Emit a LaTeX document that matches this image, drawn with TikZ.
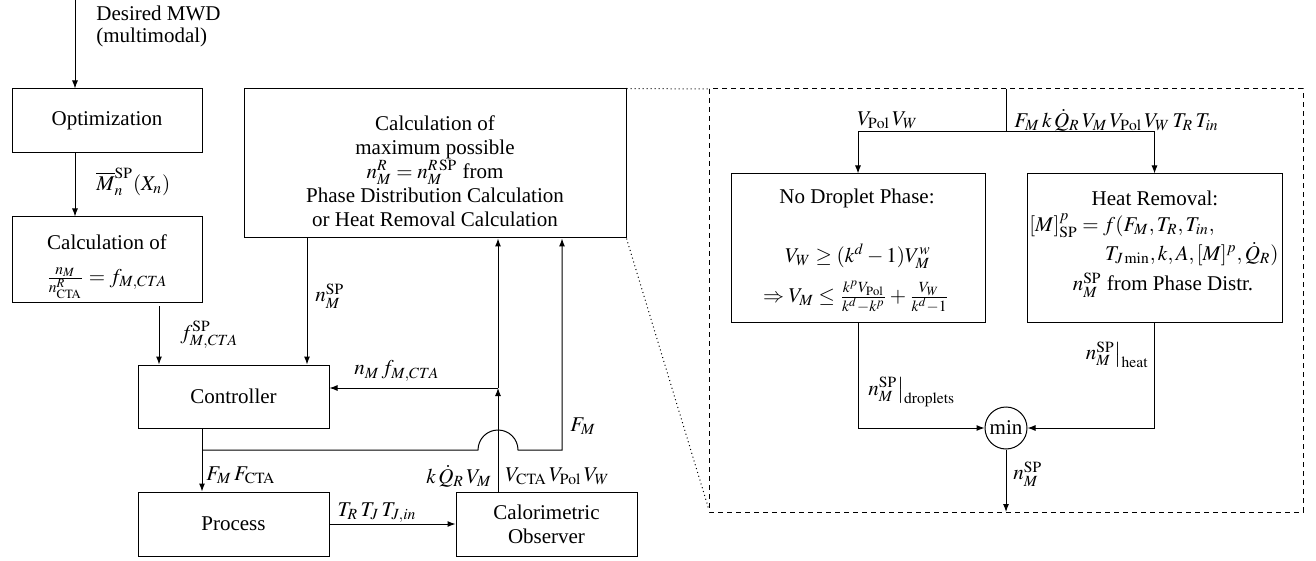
\documentclass[tikz,border=0pt]{standalone}
\usepackage{mathptmx}
\usepackage{fontspec}
\setmainfont{Liberation Serif}
\usetikzlibrary{arrows.meta}
\newcommand\fsz{\rmfamily\fontsize{10.5}{12}\selectfont}
\begin{document}
\begin{tikzpicture}[x=0.5pt,y=-0.5pt,
  box/.style={draw, line width=0.5pt, inner sep=0pt},
  txt/.style={font=\fsz, inner sep=0pt},
  arr/.style={-{Latex[length=4pt,width=3pt]}, line width=0.5pt},
  ln/.style={line width=0.5pt},
  dotline/.style={line width=0.5pt, dash pattern=on 0.5pt off 1.5pt},
  dashline/.style={line width=0.5pt, dash pattern=on 2.5pt off 2pt}]
\useasboundingbox (0,0) rectangle (1316,561);

% ---------- left part: boxes ----------
\node[box, txt, minimum width=95pt, minimum height=32pt] (opt) at (107,121) {Optimization};
\node[box, minimum width=95pt, minimum height=42.5pt] (calcf) at (107,259.5) {};
\node[txt] (calcft1) at (107,242) {Calculation of};
\node[txt] (calcft2) at (107,283) {$\frac{n_M}{n^R_{\mathrm{CTA}}} = f_{M,CTA}$};
\node[box, txt, minimum width=95.5pt, minimum height=31.5pt] (ctrl) at (233.5,396.5) {Controller};
\node[box, txt, minimum width=95.5pt, minimum height=32pt] (proc) at (233.5,524) {Process};
\node[box, txt, align=center, minimum width=90.5pt, minimum height=32pt] (obs) at (546.5,524) {Calorimetric\\Observer};
\node[box, minimum width=191pt, minimum height=74.5pt] (calcmax) at (435,163.5) {};
\node[txt, align=center] (calcmaxt) at (435,171) {Calculation of\\maximum possible\\$n_M^R = n_M^{R\,\mathrm{SP}}$ from\\Phase Distribution Calculation\\or Heat Removal Calculation};

% ---------- left part: connectors ----------
\coordinate (dtop) at (75,0);
\draw[arr] (dtop) -- (opt.north -| dtop);
\node[txt, align=left, anchor=west, font=\rmfamily\fontsize{10.5}{11}\selectfont] (desired) at (96,26) {Desired MWD\\(multimodal)};
\draw[arr] (opt.south -| dtop) -- (calcf.north -| dtop);
\node[txt, anchor=west] (mnlab) at (96,182) {$\overline{M}_n^{\mathrm{SP}}(X_n)$};

\coordinate (fstart) at (159,306);
\draw[arr] (fstart) -- (ctrl.north -| fstart);
\node[txt, anchor=west] (flab) at (180,335) {$f^{\mathrm{SP}}_{M,CTA}$};

\coordinate (nspx) at (307,0);
\draw[arr] (calcmax.south -| nspx) -- (ctrl.north -| nspx);
\node[txt, anchor=west] (nsplab) at (315,296) {$n_M^{\mathrm{SP}}$};

\coordinate (j1) at (498,388);
\draw[arr] (obs.north -| j1) -- (j1);
\draw[arr] (j1) -- (calcmax.south -| j1);
\draw[arr] (j1) -- (ctrl.east |- j1);
\node[txt, anchor=west] (nflab) at (354,371) {$n_M\,f_{M,CTA}$};

\coordinate (cp) at (202,450);
\coordinate (arcL) at (478,450);
\coordinate (fmc) at (562,450);
\draw[arr] (ctrl.south -| cp) -- (proc.north -| cp);
\draw[arr] (cp) -- (arcL) arc[start angle=180, end angle=360, radius=20] -- (fmc) -- (calcmax.south -| fmc);
\node[txt, anchor=west] (fmlab) at (570,426) {$F_M$};
\node[txt, anchor=west] (ffclab) at (206,475) {$F_M\,F_{\mathrm{CTA}}$};
\node[txt, anchor=east] (kqlab) at (492,476) {$k\,\dot{Q}_R\,V_M$};
\node[txt, anchor=west] (vvlab) at (505,476) {$V_{\mathrm{CTA}}\,V_{\mathrm{Pol}}\,V_W$};

\draw[arr] (proc.east) -- (obs.west);
\node[txt] (ttlab) at (377,513) {$T_R\,T_J\,T_{J,in}$};

% ---------- right part ----------
\coordinate (dbtl) at (709,89);
\coordinate (dbbl) at (709,510);
\coordinate (dbbot) at (1006,512);
\draw[dashline] (709,89) rectangle (1303,512);
\draw[dotline] (calcmax.north east) -- (dbtl);
\draw[dotline] (calcmax.south east) -- (dbbl);

\node[box, minimum width=127pt, minimum height=74pt] (ldrop) at (858,248) {};
\node[txt] (ld1) at (857,198) {No Droplet Phase:};
\node[txt] (ld2) at (858,256) {$V_W \geq (k^d-1)V_M^w$};
\node[txt] (ld3) at (856,297) {$\Rightarrow V_M \leq \frac{k^pV_{\mathrm{Pol}}}{k^d-k^p} + \frac{V_W}{k^d-1}$};

\node[box, minimum width=127.5pt, minimum height=74pt] (rheat) at (1154.5,248) {};
\node[txt] (rh1) at (1155,198) {Heat Removal:};
\node[txt, anchor=west] (rh2) at (1029,226) {$[M]^p_{\mathrm{SP}} = f(F_M, T_R, T_{in},$};
\node[txt, anchor=east] (rh3) at (1279,254) {$T_{J\min}, k, A, [M]^p, \dot{Q}_R)$};
\node[txt] (rh4) at (1163,285) {$n_M^{\mathrm{SP}}$ from Phase Distr.};

\node[draw, circle, line width=0.5pt, inner sep=0pt, minimum size=21pt, txt] (minc) at (1006,428) {min};

\coordinate (rin) at (1006,89);
\coordinate (rsplit) at (1006,132);
\draw[ln] (rin) -- (rsplit);
\draw[arr] (rsplit) -| (ldrop.north);
\draw[arr] (rsplit) -| (rheat.north);
\node[txt, anchor=west] (vpwlab) at (857,120) {$V_{\mathrm{Pol}}\,V_W$};
\node[txt, anchor=west] (fklab) at (1014,120) {$F_M\,k\,\dot{Q}_R\,V_M\,V_{\mathrm{Pol}}\,V_W\,T_R\,T_{in}$};

\draw[arr] (ldrop.south) |- (minc.west);
\draw[arr] (rheat.south) |- (minc.east);
\draw[arr] (minc.south) -- (dbbot);
\node[txt, anchor=east] (heatlab) at (1149,355) {$n_M^{\mathrm{SP}}\big|_{\mathrm{heat}}$};
\node[txt, anchor=west] (droplab) at (868,392) {$n_M^{\mathrm{SP}}\big|_{\mathrm{droplets}}$};
\node[txt, anchor=west] (outlab) at (1013,474) {$n_M^{\mathrm{SP}}$};
\end{tikzpicture}
\end{document}
